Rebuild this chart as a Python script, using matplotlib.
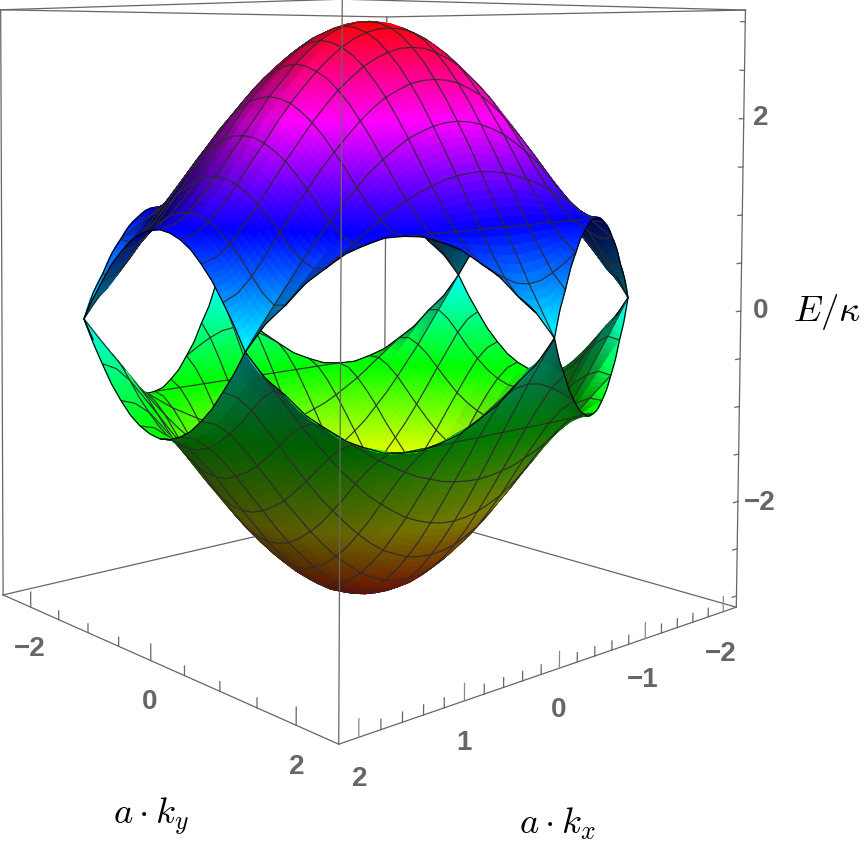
# Energy bands over the hexagonal zone, 3D view

import numpy as np
import matplotlib
matplotlib.use("Agg")
import matplotlib.pyplot as plt
from matplotlib.colors import hsv_to_rgb
from mpl_toolkits.mplot3d.art3d import Poly3DCollection

# ----------------------------------
# Data
# ----------------------------------

kx_edge = 2.094
ky_edge = 2.418
kx_lim = 2.178
ky_lim = 2.515
e_lim = 3.12

# Height of the upper band for kx >= 0, ky >= 0.
# One row per kx step, one value per ky step, rows stop just past the zone edge.
upper_band = [
    [3.00, 2.98, 2.93, 2.85, 2.73, 2.59, 2.41, 2.22, 2.00, 1.77, 1.52, 1.26, 1.00, 0.74, 0.48, 0.24, 0.00],
    [2.99, 2.97, 2.92, 2.84, 2.72, 2.58, 2.40, 2.21, 1.99, 1.76, 1.51, 1.26, 1.00, 0.75, 0.50, 0.29, 0.20],
    [2.95, 2.93, 2.88, 2.80, 2.68, 2.54, 2.37, 2.18, 1.96, 1.73, 1.49, 1.25, 1.00, 0.77, 0.56, 0.41, 0.39],
    [2.89, 2.87, 2.82, 2.74, 2.62, 2.48, 2.31, 2.12, 1.91, 1.69, 1.46, 1.23, 1.00, 0.80, 0.64, 0.56, 0.58],
    [2.80, 2.78, 2.73, 2.65, 2.54, 2.40, 2.24, 2.05, 1.85, 1.63, 1.41, 1.20, 1.00, 0.84, 0.73, 0.71],
    [2.69, 2.67, 2.62, 2.54, 2.43, 2.30, 2.14, 1.96, 1.76, 1.56, 1.36, 1.17, 1.00, 0.88, 0.83, 0.86],
    [2.56, 2.54, 2.49, 2.42, 2.31, 2.18, 2.02, 1.85, 1.66, 1.47, 1.29, 1.13, 1.00, 0.93, 0.93],
    [2.40, 2.39, 2.34, 2.27, 2.16, 2.03, 1.88, 1.72, 1.55, 1.37, 1.21, 1.08, 1.00, 0.98, 1.03],
    [2.24, 2.22, 2.18, 2.10, 2.00, 1.88, 1.73, 1.58, 1.41, 1.26, 1.13, 1.03, 1.00, 1.03],
    [2.05, 2.04, 2.00, 1.92, 1.82, 1.70, 1.57, 1.42, 1.27, 1.13, 1.03, 0.98, 1.00, 1.08],
    [1.86, 1.85, 1.80, 1.73, 1.64, 1.52, 1.39, 1.25, 1.11, 1.00, 0.93, 0.93, 1.00],
    [1.67, 1.65, 1.61, 1.54, 1.44, 1.32, 1.20, 1.06, 0.94, 0.86, 0.83, 0.88, 1.00],
    [1.47, 1.46, 1.41, 1.34, 1.25, 1.13, 1.00, 0.87, 0.77, 0.71, 0.73, 0.84],
    [1.30, 1.28, 1.23, 1.16, 1.06, 0.94, 0.81, 0.68, 0.58, 0.56, 0.64, 0.80],
    [1.14, 1.13, 1.08, 1.00, 0.89, 0.77, 0.62, 0.48, 0.39, 0.41, 0.56],
    [1.04, 1.02, 0.97, 0.89, 0.78, 0.64, 0.48, 0.31, 0.20, 0.29, 0.50],
    [1.00, 0.98, 0.93, 0.85, 0.73, 0.59, 0.41, 0.22, 0.00, 0.24],
]

kx_major = [-2, -1, 0, 1, 2]
kx_minor = [-1.8, -1.6, -1.4, -1.2, -0.8, -0.6, -0.4, -0.2, 0.2, 0.4, 0.6, 0.8, 1.2, 1.4, 1.6, 1.8]
ky_major = [-2, 0, 2]
ky_minor = [-1.5, -1, -0.5, 0.5, 1, 1.5]
e_ticks = [-3, -2.5, -2, -1.5, -1, -0.5, 0, 0.5, 1, 1.5, 2, 2.5, 3]

# ----------------------------------
# Camera
# ----------------------------------

# perspective view of the box, data units to image pixels
camera = np.array([
    [-106.427, 53.2265, -0.400082, 367.582],
    [-2.41251, -2.07581, -95.4822, 307.759],
    [-0.0454013, -0.0433887, -0.00249598, 1.0],
])

# eye position is the null vector of the camera matrix
_, _, vt = np.linalg.svd(camera)
eye = vt[-1][:3] / vt[-1][3]

proj = np.vstack([camera[0], camera[1], camera[2] - np.array([0, 0, 0, 1.0]), camera[2]])

plt.rcParams["mathtext.fontset"] = "cm"

fig = plt.figure(figsize=(8.64, 8.5), dpi=100)
ax = fig.add_axes([-0.1, -0.1, 1.2, 1.2], projection="3d")
ax.set_axis_off()
ax.computed_zorder = False
ax.set_proj_type("ortho")
ax.get_proj = lambda: proj

# ----------------------------------
# Build the full grid from the table
# ----------------------------------

n = len(upper_band)
quarter = np.full((n, n), np.nan)
for i, row in enumerate(upper_band):
    quarter[i, :len(row)] = row
half = np.concatenate([quarter[:0:-1], quarter], axis=0)
table = np.concatenate([half[:, :0:-1], half], axis=1)
kx_grid = np.linspace(-kx_edge, kx_edge, table.shape[0])
ky_grid = np.linspace(-ky_edge, ky_edge, table.shape[1])

sides = [(1, 0, kx_edge), (-1, 0, kx_edge)]
for sx in (1, -1):
    for sy in (1, -1):
        sides.append((sx / (2 * kx_edge), sy / ky_edge, 1.0))


def clip_cell(poly):
    for a, b, c in sides:
        out = []
        for k in range(len(poly)):
            p, q = poly[k], poly[(k + 1) % len(poly)]
            dp = c - a * p[0] - b * p[1]
            dq = c - a * q[0] - b * q[1]
            if dp >= -1e-9:
                out.append(p)
            if (dp > 1e-9 and dq < -1e-9) or (dp < -1e-9 and dq > 1e-9):
                t = dp / (dp - dq)
                out.append(tuple(p[m] + t * (q[m] - p[m]) for m in range(3)))
        poly = out
        if len(poly) == 0:
            return poly
    return poly


def on_boundary(p, q):
    for a, b, c in sides:
        if abs(c - a * p[0] - b * p[1]) < 1e-7 and abs(c - a * q[0] - b * q[1]) < 1e-7:
            return True
    return False


xa, ya, za = kx_lim, ky_lim, e_lim
lims = np.array([xa, ya, za])
scale = np.array([1, 1, 1.13]) / (2 * lims)
centre_dir = eye * scale / np.linalg.norm(eye * scale)
right = np.array([-centre_dir[1], centre_dir[0], 0.0])
right = right / np.linalg.norm(right)
light = 0.65 * right + 0.5 * np.array([0, 0, 1.0]) + 0.55 * np.array([centre_dir[0], centre_dir[1], 0.0])


def facet_color(corners):
    a, b, c, d = [np.array(v) * scale for v in corners]
    normal = np.cross(c - a, d - b)
    normal = normal / np.linalg.norm(normal)
    if normal[2] < 0:
        normal = -normal
    mid = np.mean(corners, axis=0)
    to_eye = (eye - mid) * scale
    rgb = hsv_to_rgb([((mid[2] + 3) / 6) % 1.0, 1, 1])
    if normal @ to_eye > 0:
        shade = min(1.0, 0.55 + 0.9 * (normal @ light))
    else:
        shade = 0.40 + 0.14 * (-normal @ right)
    return tuple(rgb * shade) + (1.0,)


verts = []
faces = []
edges = []
seen = set()
steps = 3
line_col = (0.17, 0.17, 0.17, 0.95)

for sign in (1, -1):
    for i in range(len(kx_grid) - 1):
        for j in range(len(ky_grid) - 1):
            if np.isnan(table[i:i + 2, j:j + 2]).any():
                continue
            c00 = np.array((kx_grid[i], ky_grid[j], sign * table[i, j]))
            c10 = np.array((kx_grid[i + 1], ky_grid[j], sign * table[i + 1, j]))
            c11 = np.array((kx_grid[i + 1], ky_grid[j + 1], sign * table[i + 1, j + 1]))
            c01 = np.array((kx_grid[i], ky_grid[j + 1], sign * table[i, j + 1]))

            # finer colour patches inside one table cell
            def at(s, t):
                return tuple((1 - s) * (1 - t) * c00 + s * (1 - t) * c10 + s * t * c11 + (1 - s) * t * c01)

            for a in range(steps):
                for b in range(steps):
                    s0, s1, t0, t1 = a / steps, (a + 1) / steps, b / steps, (b + 1) / steps
                    patch = [at(s0, t0), at(s1, t0), at(s1, t1), at(s0, t1)]
                    poly = clip_cell(patch)
                    if len(poly) < 3:
                        continue
                    col = facet_color(patch)
                    verts.append(poly)
                    faces.append(col)
                    edges.append(col)

            # mesh lines every second grid step, and the zone outline
            poly = clip_cell([tuple(c00), tuple(c10), tuple(c11), tuple(c01)])
            for k in range(len(poly)):
                p, q = poly[k], poly[(k + 1) % len(poly)]
                key = tuple(sorted((tuple(np.round(p, 5)), tuple(np.round(q, 5)))))
                if key in seen or len(poly) < 3:
                    continue
                line = None
                even_i = kx_grid[i] if i % 2 == 0 else kx_grid[i + 1]
                even_j = ky_grid[j] if j % 2 == 0 else ky_grid[j + 1]
                if on_boundary(p, q):
                    line = (0, 0, 0, 1)
                elif abs(p[0] - even_i) < 1e-9 and abs(q[0] - even_i) < 1e-9:
                    line = line_col
                elif abs(p[1] - even_j) < 1e-9 and abs(q[1] - even_j) < 1e-9:
                    line = line_col
                if line is None:
                    continue
                seen.add(key)
                p2 = np.array(p) + 0.012 * (eye - np.array(p))
                q2 = np.array(q) + 0.012 * (eye - np.array(q))
                verts.append([tuple(p2), tuple(q2)])
                faces.append((0, 0, 0, 0))
                edges.append(line)

surface = Poly3DCollection(verts, linewidths=0.85, zorder=2)
surface.set_facecolor(faces)
surface.set_edgecolor(edges)
ax.add_collection3d(surface, autolim=False)

# ----------------------------------
# Box and ticks
# ----------------------------------

box_col = "#666666"


def edge(p, q, z=3, col=box_col, lw=0.9):
    ax.plot([p[0], q[0]], [p[1], q[1]], [p[2], q[2]], color=col, lw=lw, zorder=z)


# behind the surface
edge((-xa, -ya, -za), (xa, -ya, -za), z=1)
edge((-xa, -ya, -za), (-xa, ya, -za), z=1)
edge((-xa, -ya, -za), (-xa, -ya, za), z=1)
# in front of it
edge((xa, ya, -za), (xa, ya, za))
edge((xa, ya, -za), (xa, -ya, -za))
edge((xa, ya, -za), (-xa, ya, -za))
edge((xa, -ya, -za), (xa, -ya, za))
edge((-xa, ya, -za), (-xa, ya, za))
edge((xa, ya, za), (xa, -ya, za))
edge((xa, ya, za), (-xa, ya, za))
edge((-xa, -ya, za), (xa, -ya, za))
edge((-xa, -ya, za), (-xa, ya, za))

for v in kx_major:
    edge((v, ya, -za), (v, ya, -za + 0.16), col="#888888")
for v in kx_minor:
    edge((v, ya, -za), (v, ya, -za + 0.09))
for v in ky_major:
    edge((xa, v, -za), (xa, v, -za + 0.16))
for v in ky_minor:
    edge((xa, v, -za), (xa, v, -za + 0.09))
for v in e_ticks:
    edge((-xa, ya, v), (-xa + 0.06, ya, v))

# the 2D view of the axes runs in image pixels
ax.apply_aspect()
bb = ax.get_window_extent()
ax.viewLim.intervalx = (bb.x0, bb.x0 + bb.width)
ax.viewLim.intervaly = (850 - bb.y0, 850 - bb.y0 - bb.height)

# ----------------------------------
# Text
# ----------------------------------


def label(x, y, txt):
    fig.text(x / 864, 1 - y / 850, txt, ha="center", va="center", fontsize=20,
             family="Liberation Sans", weight="bold", color="#666666")


def math_label(x, y, txt):
    fig.text(x / 864, 1 - y / 850, txt, ha="center", va="center", fontsize=26.5, color="black")


label(30, 649, "\u22122")
label(150, 702, "0")
label(297, 767, "2")
label(360, 779, "2")
label(464, 743, "1")
label(559, 710, "0")
label(643, 680, "\u22121")
label(721, 654, "\u22122")
label(761, 118, "2")
label(761, 311, "0")
label(760, 503, "\u22122")

math_label(827, 312, r"$E/\kappa$")
math_label(151, 816, r"$a\cdot k_y$")
math_label(558, 824, r"$a\cdot k_x$")

plt.savefig("out.png", dpi=100)
